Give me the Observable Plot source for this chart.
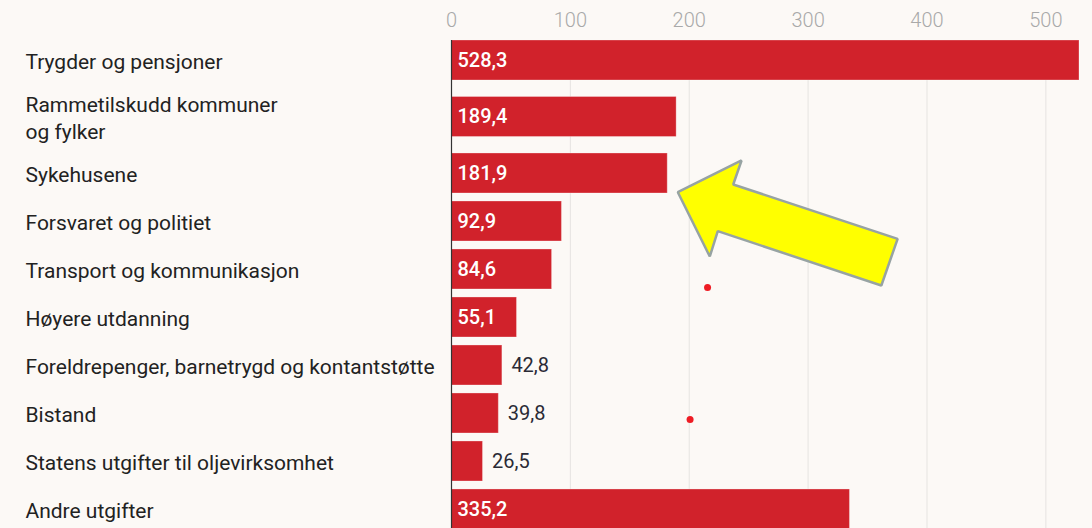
<!DOCTYPE html>
<html>
<head>
<meta charset="utf-8">
<script src="https://cdn.jsdelivr.net/npm/d3@7"></script>
<script src="https://cdn.jsdelivr.net/npm/@observablehq/plot@0.6"></script>
<style>
  html, body { margin: 0; padding: 0; background: #fcf9f6; overflow: hidden; }
  #chart svg { display: block; }
</style>
</head>
<body>
<div id="chart"></div>
<script>
// ---- data ----
const categories = [
  "Trygder og pensjoner",
  "Rammetilskudd kommuner\nog fylker",
  "Sykehusene",
  "Forsvaret og politiet",
  "Transport og kommunikasjon",
  "Høyere utdanning",
  "Foreldrepenger, barnetrygd og kontantstøtte",
  "Bistand",
  "Statens utgifter til oljevirksomhet",
  "Andre utgifter"
];
const values = [528.3, 189.4, 181.9, 92.9, 84.6, 55.1, 42.8, 39.8, 26.5, 335.2];
const xTicks = [0, 100, 200, 300, 400, 500];

// annotation arrow (x in value units, y in row units)
const arrowX = [190.4, 244.0, 237.0, 375.3, 361.6, 224.0, 217.3, 190.4];
const arrowY = [3.244, 2.583, 3.083, 4.215, 5.188, 4.056, 4.583, 3.244];
// small red dots present in the picture
const dotX = [215.4, 200.7];
const dotY = [5.229, 7.979];

// ---- layout of rows (two-line labels get a taller row) ----
const extraPerLine = 0.354;
let acc = 0;
const rows = categories.map((c, i) => {
  const lines = c.split("\n").length;
  const h = 1 + (lines - 1) * extraPerLine;
  const center = acc + h / 2;
  acc += h;
  return {
    name: c,
    value: values[i],
    label: values[i].toFixed(1).replace(".", ","),
    y: center,
    y1: center - 0.4167,
    y2: center + 0.4167,
    inside: values[i] > 50
  };
});
const total = acc;
const arrow = arrowX.map((x, i) => ({x, y: arrowY[i]}));
const dots = dotX.map((x, i) => ({x, y: dotY[i]}));

const rowPx = 48;
const marginTop = 36;

const chart = Plot.plot({
  width: 1092,
  height: marginTop + total * rowPx,
  marginTop,
  marginBottom: 0,
  marginLeft: 451,
  marginRight: 13,
  style: { background: "#fcf9f6", fontFamily: "Roboto, sans-serif", overflow: "visible" },
  x: { domain: [0, 528.3], axis: null },
  y: { domain: [0, total], reverse: true, axis: null },
  marks: [
    Plot.axisX({ anchor: "top", ticks: xTicks, tickSize: 0, tickPadding: 9, fontSize: 20, fill: "#a9a9a9", fontWeight: 300, label: null }),
    Plot.ruleX(xTicks.filter(d => d > 0), { x: d => d, y1: rows[0].y1, y2: total, stroke: "#e6e4e1", strokeWidth: 1 }),
    Plot.rectX(rows, { x1: 0, x2: "value", y1: "y1", y2: "y2", fill: "#d1222b", stroke: "#ffffff", strokeOpacity: 0.3, strokeWidth: 1 }),
    Plot.ruleX([0], { y1: rows[0].y1, y2: total, stroke: "#333", strokeWidth: 1.2 }),
    Plot.text(rows.filter(d => d.inside), { x: 0, y: "y", text: "label", dx: 6, textAnchor: "start", fill: "#ffffff", fontSize: 20, fontWeight: 500 }),
    Plot.text(rows.filter(d => !d.inside), { x: "value", y: "y", text: "label", dx: 9, textAnchor: "start", fill: "#2a2a35", fontSize: 20 }),
    Plot.text(rows, { x: 0, y: "y", text: "name", dx: -426, textAnchor: "start", fill: "#222", fontSize: 21, lineHeight: 1.29 }),
    Plot.line(arrow, { x: "x", y: "y", curve: "linear-closed", fill: "#ffff00", stroke: "#97a3a3", strokeWidth: 2.5, strokeLinejoin: "miter" }),
    Plot.dot(dots, { x: "x", y: "y", r: 3.5, fill: "#ee1c24", stroke: "none" })
  ]
});
document.getElementById("chart").appendChild(chart);
</script>
</body>
</html>
